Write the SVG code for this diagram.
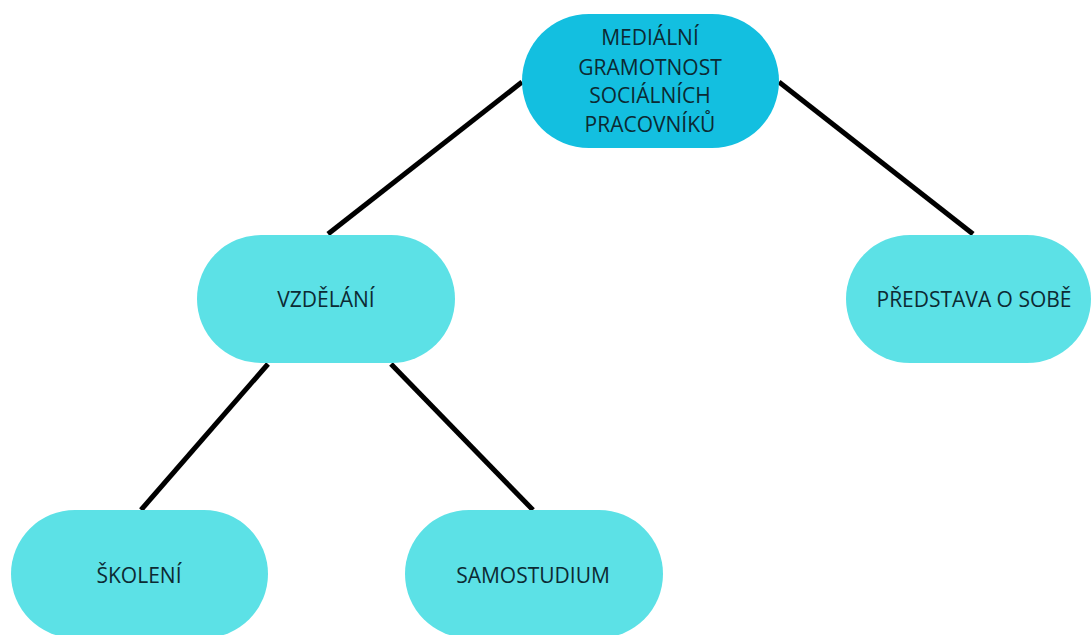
<svg xmlns="http://www.w3.org/2000/svg" width="1091" height="635" viewBox="0 0 1091 635">
<style>
.n{fill:#5ce1e6}
.root{fill:#13bfe0}
.t{font-family:"Open Sans","Noto Sans","Liberation Sans",sans-serif;font-size:21px;fill:#0c2a33;text-anchor:middle}
.c line{stroke:#000;stroke-width:5;stroke-linecap:butt}
</style>
<rect width="1091" height="635" fill="#fff"/>
<g class="c" id="connectors">
<line x1="522" y1="82" x2="328" y2="234"/>
<line x1="779" y1="82" x2="973" y2="234"/>
<line x1="268" y1="364" x2="141" y2="510"/>
<line x1="391" y1="364" x2="533" y2="510"/>
</g>
<g id="root">
<rect class="root" x="522" y="14" width="257" height="134" rx="67"/>
<text class="t" x="650" y="45">MEDIÁLNÍ</text>
<text class="t" x="650" y="75">GRAMOTNOST</text>
<text class="t" x="650" y="103">SOCIÁLNÍCH</text>
<text class="t" x="650" y="132">PRACOVNÍKŮ</text>
</g>
<g id="vzdelani">
<rect class="n" x="197" y="235" width="258" height="128" rx="64"/>
<text class="t" x="326" y="307">VZDĚLÁNÍ</text>
</g>
<g id="predstava">
<rect class="n" x="846" y="235" width="245" height="128" rx="64"/>
<text class="t" x="974" y="307">PŘEDSTAVA O SOBĚ</text>
</g>
<g id="skoleni">
<rect class="n" x="11" y="510" width="257" height="128" rx="64"/>
<text class="t" x="139" y="583">ŠKOLENÍ</text>
</g>
<g id="samostudium">
<rect class="n" x="405" y="510" width="258" height="128" rx="64"/>
<text class="t" x="533" y="583">SAMOSTUDIUM</text>
</g>
</svg>
